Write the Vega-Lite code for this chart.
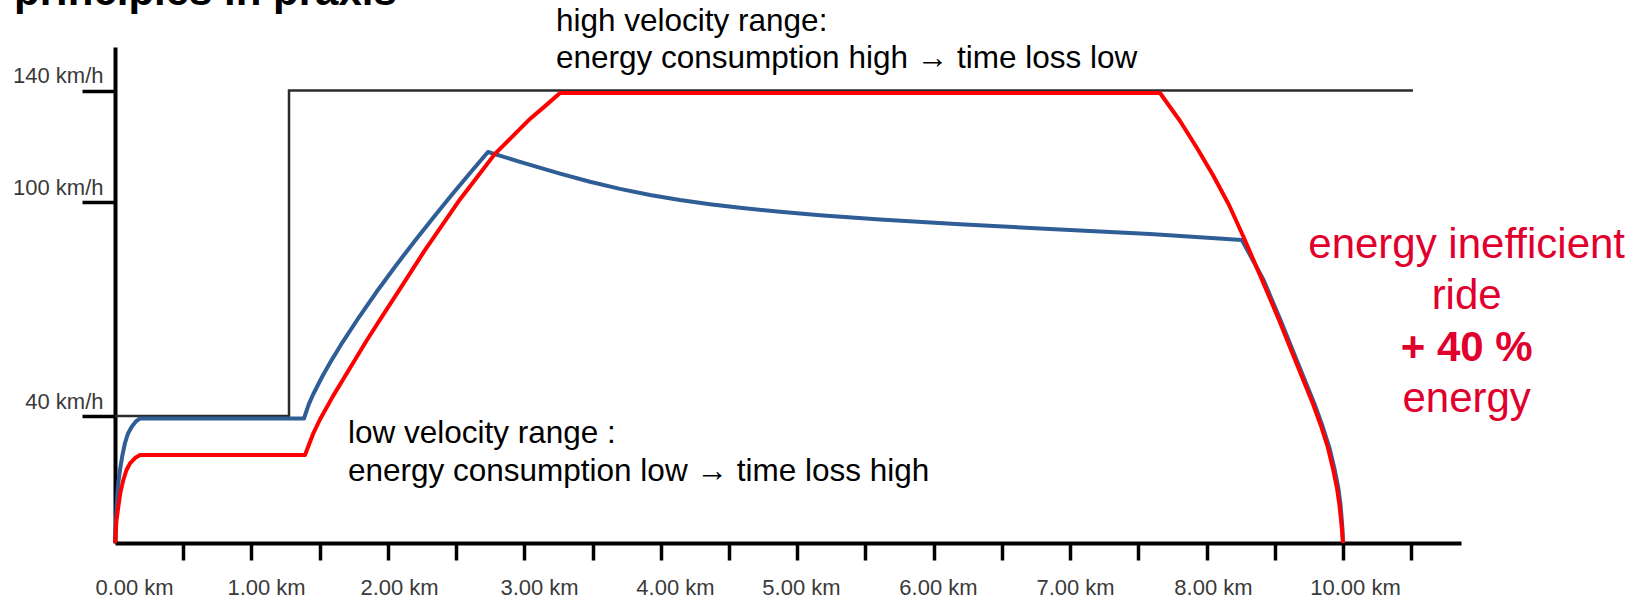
{
  "$schema": "https://vega.github.io/schema/vega-lite/v6.json",
  "width": 1346,
  "height": 496,
  "autosize": {"type": "none"},
  "padding": {"left": 115, "top": 47, "right": 186, "bottom": 57},
  "background": "white",
  "config": {"view": {"stroke": null}},
  "datasets": {
    "heading": [
      {"km": -0.822, "v": 170.67, "text": "principles in praxis"}
    ],
    "limit": [
      {"i": 0, "km": 0, "v": 40},
      {"i": 1, "km": 1.417, "v": 40},
      {"i": 2, "km": 1.417, "v": 140},
      {"i": 3, "km": 10.57, "v": 140}
    ],
    "blue": [
      {"km": 0, "v": 0},
      {"km": 0.0138, "v": 11.43},
      {"km": 0.0244, "v": 18.27},
      {"km": 0.0407, "v": 22.99},
      {"km": 0.06, "v": 27.6},
      {"km": 0.0814, "v": 31.5},
      {"km": 0.106, "v": 34.5},
      {"km": 0.136, "v": 36.63},
      {"km": 0.17, "v": 38.3},
      {"km": 0.2036, "v": 39.21},
      {"km": 1.539, "v": 39.21},
      {"km": 1.577, "v": 43.2},
      {"km": 1.614, "v": 46.1},
      {"km": 1.689, "v": 51.14},
      {"km": 1.764, "v": 55.67},
      {"km": 1.839, "v": 59.92},
      {"km": 1.989, "v": 67.82},
      {"km": 2.138, "v": 75.19},
      {"km": 2.288, "v": 82.21},
      {"km": 2.438, "v": 88.95},
      {"km": 2.588, "v": 95.47},
      {"km": 2.738, "v": 102.31},
      {"km": 2.888, "v": 110.21},
      {"km": 3.037, "v": 117.94},
      {"km": 3.298, "v": 114.42},
      {"km": 3.624, "v": 110.19},
      {"km": 3.868, "v": 107.25},
      {"km": 4.112, "v": 104.7},
      {"km": 4.357, "v": 102.51},
      {"km": 4.601, "v": 100.72},
      {"km": 4.845, "v": 99.38},
      {"km": 5.09, "v": 98.37},
      {"km": 5.415, "v": 97.25},
      {"km": 5.741, "v": 96.27},
      {"km": 6.23, "v": 95.09},
      {"km": 6.881, "v": 93.74},
      {"km": 7.614, "v": 92.45},
      {"km": 8.428, "v": 91.05},
      {"km": 9.177, "v": 89.34},
      {"km": 9.353, "v": 78.13},
      {"km": 9.491, "v": 66.91},
      {"km": 9.629, "v": 55.14},
      {"km": 9.768, "v": 43.36},
      {"km": 9.833, "v": 36.85},
      {"km": 9.89, "v": 29.92},
      {"km": 9.931, "v": 23.31},
      {"km": 9.962, "v": 17.32},
      {"km": 9.98, "v": 11.97},
      {"km": 9.99, "v": 7.24},
      {"km": 9.997, "v": 3.46},
      {"km": 10.0, "v": 0}
    ],
    "red": [
      {"km": 0, "v": 0},
      {"km": 0.0122, "v": 7.24},
      {"km": 0.0269, "v": 11.43},
      {"km": 0.0448, "v": 16.06},
      {"km": 0.0676, "v": 19.84},
      {"km": 0.0936, "v": 22.99},
      {"km": 0.1221, "v": 25.1},
      {"km": 0.1629, "v": 26.77},
      {"km": 0.2036, "v": 27.72},
      {"km": 1.547, "v": 27.72},
      {"km": 1.612, "v": 34.27},
      {"km": 1.669, "v": 38.9},
      {"km": 1.775, "v": 45.58},
      {"km": 1.914, "v": 53.46},
      {"km": 2.052, "v": 61.31},
      {"km": 2.182, "v": 68.26},
      {"km": 2.321, "v": 75.63},
      {"km": 2.524, "v": 86.51},
      {"km": 2.687, "v": 94.64},
      {"km": 2.809, "v": 100.93},
      {"km": 2.956, "v": 109.33},
      {"km": 3.094, "v": 117.26},
      {"km": 3.233, "v": 123.35},
      {"km": 3.379, "v": 129.81},
      {"km": 3.502, "v": 134.4},
      {"km": 3.624, "v": 139.1},
      {"km": 8.51, "v": 139.1},
      {"km": 8.673, "v": 129.06},
      {"km": 8.811, "v": 119.37},
      {"km": 8.941, "v": 109.69},
      {"km": 9.072, "v": 99.15},
      {"km": 9.194, "v": 89.9},
      {"km": 9.341, "v": 78.13},
      {"km": 9.479, "v": 66.91},
      {"km": 9.617, "v": 55.14},
      {"km": 9.756, "v": 43.36},
      {"km": 9.821, "v": 36.85},
      {"km": 9.878, "v": 29.92},
      {"km": 9.919, "v": 23.31},
      {"km": 9.951, "v": 17.32},
      {"km": 9.971, "v": 11.97},
      {"km": 9.984, "v": 7.24},
      {"km": 9.993, "v": 3.46},
      {"km": 10.0, "v": 0}
    ],
    "notes": [
      {"km": 3.591, "v": 161.35, "text": "high velocity range:"},
      {"km": 3.591, "v": 148.07, "text": "energy consumption high → time loss low"},
      {"km": 1.897, "v": 31.5, "text": "low velocity range :"},
      {"km": 1.897, "v": 19.53, "text": "energy consumption low → time loss high"}
    ],
    "rednote": [
      {"km": 11.007, "v": 84.29, "text": "energy inefficient", "w": "normal"},
      {"km": 11.007, "v": 69.86, "text": "ride", "w": "normal"},
      {"km": 11.007, "v": 55.56, "text": "+ 40 %", "w": "bold"},
      {"km": 11.007, "v": 41.26, "text": "energy", "w": "normal"}
    ]
  },
  "encoding": {
    "x": {
      "field": "km",
      "type": "quantitative",
      "scale": {"domain": [0, 10.961], "nice": false, "zero": false},
      "axis": {
        "title": null,
        "grid": false,
        "values": [0.5556, 1.1111, 1.6667, 2.2222, 2.7778, 3.3333, 3.8889, 4.4444, 5, 5.5556, 6.1111, 6.6667, 7.2222, 7.7778, 8.3333, 8.8889, 9.4444, 10, 10.5556, 0.155, 1.23, 2.313, 3.453, 4.56, 5.586, 6.702, 7.818, 8.941, 10.098],
        "domainColor": "black",
        "domainWidth": 4,
        "tickColor": "black",
        "tickWidth": 3.5,
        "tickSize": 17,
        "tickOpacity": {"condition": {"test": "abs(datum.value*1.8 - round(datum.value*1.8)) < 0.01", "value": 1}, "value": 0},
        "labelExpr": "abs(datum.value*1.8 - round(datum.value*1.8)) < 0.01 ? '' : format(floor(datum.value), '.2f') + ' km'",
        "labelFont": "Liberation Sans",
        "labelFontSize": 22,
        "labelColor": "#3a3a3a",
        "labelPadding": 34,
        "labelBaseline": "alphabetic",
        "labelAlign": "center",
        "labelOverlap": false,
        "labelBound": false,
        "labelFlush": false
      }
    },
    "y": {
      "field": "v",
      "type": "quantitative",
      "scale": {"domain": [0, 40, 100, 140, 155.6], "range": [496, 369, 155, 43.5, 0], "nice": false, "zero": false},
      "axis": {
        "title": null,
        "grid": false,
        "values": [40, 100, 140],
        "domainColor": "black",
        "domainWidth": 4,
        "tickColor": "black",
        "tickWidth": 3.5,
        "tickSize": 33,
        "labelExpr": "datum.value + ' km/h'",
        "labelFont": "Liberation Sans",
        "labelFontSize": 22,
        "labelColor": "#3a3a3a",
        "labelAlign": "right",
        "labelBaseline": "alphabetic",
        "labelPadding": -21,
        "labelOffset": -8,
        "labelOverlap": false,
        "labelBound": false,
        "labelFlush": false
      }
    }
  },
  "layer": [
    {
      "data": {"name": "limit"},
      "mark": {"type": "line", "color": "#2b2b2b", "strokeWidth": 2.5},
      "encoding": {"order": {"field": "i", "type": "quantitative"}}
    },
    {
      "data": {"name": "blue"},
      "mark": {"type": "line", "color": "#2f5d96", "strokeWidth": 4, "strokeJoin": "round"},
      "encoding": {}
    },
    {
      "data": {"name": "red"},
      "mark": {"type": "line", "color": "#ff0000", "strokeWidth": 4, "strokeJoin": "round"},
      "encoding": {}
    },
    {
      "data": {"name": "heading"},
      "mark": {"type": "text", "align": "left", "baseline": "alphabetic", "font": "Liberation Sans", "fontSize": 42, "fontWeight": "bold", "color": "black"},
      "encoding": {"text": {"field": "text", "type": "nominal"}}
    },
    {
      "data": {"name": "notes"},
      "mark": {"type": "text", "align": "left", "baseline": "alphabetic", "font": "Liberation Sans", "fontSize": 31.5, "color": "black"},
      "encoding": {"text": {"field": "text", "type": "nominal"}}
    },
    {
      "data": {"name": "rednote"},
      "transform": [{"filter": "datum.w == 'normal'"}],
      "mark": {"type": "text", "align": "center", "baseline": "alphabetic", "font": "Liberation Sans", "fontSize": 42, "color": "#e1002d"},
      "encoding": {"text": {"field": "text", "type": "nominal"}}
    },
    {
      "data": {"name": "rednote"},
      "transform": [{"filter": "datum.w == 'bold'"}],
      "mark": {"type": "text", "align": "center", "baseline": "alphabetic", "font": "Liberation Sans", "fontSize": 42, "fontWeight": "bold", "color": "#e1002d"},
      "encoding": {"text": {"field": "text", "type": "nominal"}}
    }
  ]
}
